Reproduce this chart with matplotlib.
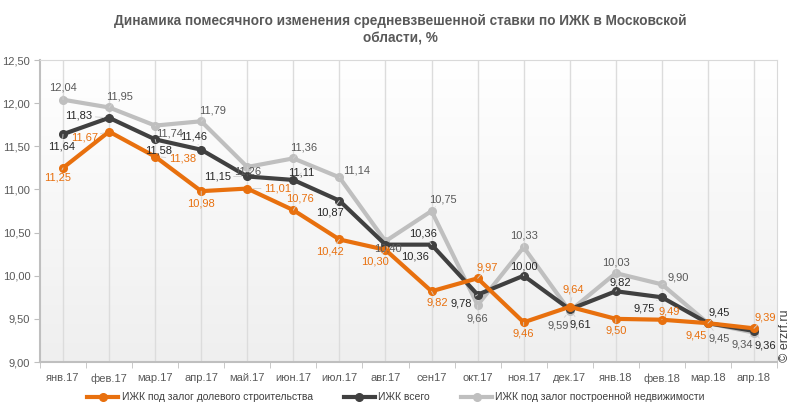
import numpy as np
import matplotlib
matplotlib.use('Agg')
from matplotlib import pyplot as plt
from matplotlib.ticker import FixedLocator, FuncFormatter

plt.rcParams['font.family'] = ['Liberation Sans', 'DejaVu Sans']

months = ['янв.17', 'фев.17', 'мар.17', 'апр.17', 'май.17', 'июн.17', 'июл.17', 'авг.17',
          'сен17', 'окт.17', 'ноя.17', 'дек.17', 'янв.18', 'фев.18', 'мар.18', 'апр.18']
shared = [11.25, 11.67, 11.38, 10.98, 11.01, 10.76, 10.42, 10.30,
          9.82, 9.97, 9.46, 9.64, 9.50, 9.49, 9.45, 9.39]
total = [11.64, 11.83, 11.58, 11.46, 11.15, 11.11, 10.87, 10.36,
         10.36, 9.78, 10.00, 9.61, 9.82, 9.75, 9.45, 9.36]
built = [12.04, 11.95, 11.74, 11.79, 11.26, 11.36, 11.14, 10.40,
         10.75, 9.66, 10.33, 9.59, 10.03, 9.90, 9.45, 9.34]

names = ['ИЖК под залог долевого строительства', 'ИЖК всего',
         'ИЖК под залог построенной недвижимости']
colors = ['#E8700E', '#404040', '#BFBFBF']
label_colors = ['#E8700E', '#262626', '#595959']

# label offsets in pixels (dx, dy), per series
offsets = [
    [(-5, -10), (-25, -6), (27, -2), (0, -12), (30, 0), (7, 12), (-9, -12), (-10, -12),
     (6, -11), (10, 11), (0, -11), (4, 17), (0, -12), (7, 8), (-12, -12), (11, 11)],
    [(-1, -12), (-30, 2), (3, -11), (-8, 13), (-30, 0), (8, 7), (-9, -12), (30, -12),
     (-8, 11), (-16, -9), (0, 9), (11, -15), (5, 9), (-18, -11), (11, 11), (11, -15)],
    [(0, 12), (10, 11), (14, -8), (11, 11), (0, -5), (10, 11), (17, 7), (2, -7),
     (11, 12), (0, -13), (0, 12), (-12, -14), (0, 11), (16, 7), (11, -15), (-12, -12)],
]

fig = plt.figure(figsize=(7.92, 4.15), dpi=100)
ax = fig.add_axes([40 / 792, 53 / 415, 737 / 792, 302 / 415])

# background gradient
grad = np.linspace(1, 0, 256).reshape(-1, 1)
bg = matplotlib.colors.LinearSegmentedColormap.from_list('bg', ['#ffffff', '#efefef'])
ax.imshow(grad, extent=(-0.5, 15.5, 9.0, 12.5), aspect='auto', cmap=bg,
          vmin=0, vmax=1, zorder=0, origin='lower')

x = np.arange(len(months))
for xi in x:
    ax.axvline(xi, color='#dcdcdc', lw=1, zorder=1)

series = [shared, total, built]
zorders = [4, 3, 2]
for vals, name, c, z in zip(series, names, colors, zorders):
    ax.plot(x, vals, color=c, lw=3, marker='o', ms=5.5, label=name, zorder=z)

for vals, lc, offs in zip(series, label_colors, offsets):
    for xi, v, (dx, dy) in zip(x, vals, offs):
        ax.annotate(f'{v:.2f}'.replace('.', ','), (xi, v), xytext=(dx, dy),
                    textcoords='offset pixels', ha='center', va='center',
                    fontsize=8, color=lc, zorder=6,
                    arrowprops=dict(arrowstyle='-', color='#d0d0d0', lw=0.6,
                                    shrinkA=0, shrinkB=4))

ax.set_xlim(-0.5, 15.5)
ax.set_ylim(9.0, 12.5)
ax.set_yticks(np.arange(9.0, 12.51, 0.5))
ax.yaxis.set_major_formatter(FuncFormatter(lambda v, p: f'{v:.2f}'.replace('.', ',')))
ax.set_xticks(x)
ax.set_xticklabels(months)
ax.xaxis.set_minor_locator(FixedLocator(np.arange(-0.5, 15.6, 1)))
ax.tick_params(axis='x', which='major', length=0, pad=8, labelsize=8, labelcolor='#595959')
ax.tick_params(axis='x', which='minor', length=4, color='#bfbfbf')
ax.tick_params(axis='y', length=4, color='#bfbfbf', labelsize=8, labelcolor='#595959', pad=3)
for side in ['top', 'right']:
    ax.spines[side].set_color('#d9d9d9')
ax.spines['left'].set_color('#bfbfbf')
ax.spines['bottom'].set_color('#bfbfbf')
ax.spines['left'].set_linewidth(1.5)
ax.spines['bottom'].set_linewidth(1.5)

fig.text(0.505, 0.928, 'Динамика помесячного изменения средневзвешенной ставки по ИЖК в Московской\nобласти, %',
         ha='center', va='center', fontsize=9.8, fontweight='bold', color='#595959', linespacing=1.35)

fig.legend(loc='center', bbox_to_anchor=(0.5, 0.043), ncol=3, frameon=False, fontsize=7.5,
           handlelength=3, columnspacing=3, handletextpad=0.3, labelcolor='#404040')

fig.text(0.991, 0.128, '© erzrf.ru', rotation=90, ha='center', va='bottom', fontsize=9,
         color='#404040')

fig.savefig('out.png', dpi=100)
